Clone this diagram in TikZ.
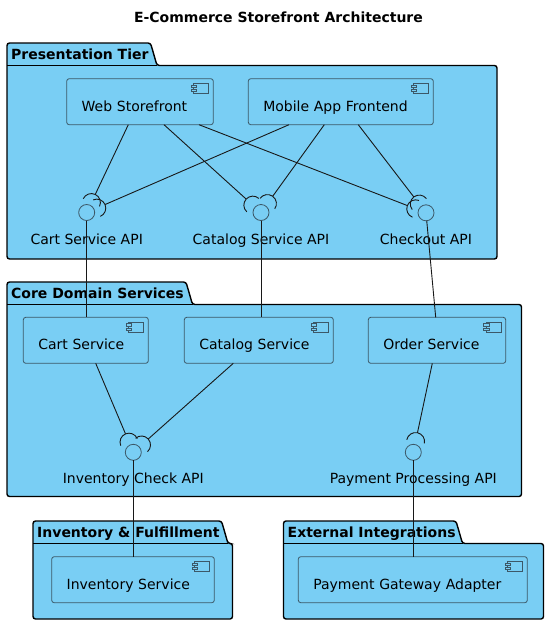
\documentclass[tikz,border=0pt]{standalone}
\usepackage{fontspec}
\setmainfont{DejaVu Sans}
\usepackage{tikz}
\usetikzlibrary{calc}
\definecolor{pkgblue}{HTML}{79CEF4}
\definecolor{compedge}{HTML}{3C5868}
\definecolor{linkdark}{HTML}{181818}

\newcommand{\umlsize}{\fontsize{14}{17}\selectfont}

% required interface: line from a start point, ending in a half circle round the ball
\newcommand{\socketlink}[2]{%
  \draw[link] let \p1 = ($(#1)-(#2)$), \n1 = {atan2(\y1,\x1)} in
    (#1) -- ($(#2)!20pt!(#1)$)
    ($(#2)!11pt!(#1)$) ++(\n1-90:9pt) arc[start angle=\n1-90, end angle=\n1+90, radius=9pt];
}

\begin{document}
\begin{tikzpicture}[x=1pt, y=-1pt,
    pkg/.style={draw=black, fill=pkgblue, line width=1.4pt, rounded corners=2.5pt},
    pkgline/.style={draw=black, line width=1.4pt},
    pkgtitle/.style={font=\umlsize\bfseries, anchor=base west, inner sep=0pt},
    comp/.style={draw=compedge, fill=pkgblue, line width=0.8pt, rounded corners=2.5pt,
        anchor=north west, minimum height=46pt, inner xsep=15pt, outer sep=0pt,
        text height=18.6pt, text depth=0pt, align=left, font=\umlsize},
    compicon/.style={draw=compedge, fill=pkgblue, line width=0.7pt},
    iface/.style={circle, draw=compedge, fill=pkgblue, line width=0.8pt,
        minimum size=16pt, inner sep=0pt, outer sep=0pt},
    ifacelabel/.style={font=\umlsize, anchor=base, yshift=-23.5pt, inner sep=0pt},
    link/.style={draw=linkdark, line width=0.9pt}]

    \useasboundingbox (0,0) rectangle (557,633);
    \fill[white] (0,0) rectangle (557,633);

    % Title
    \node[font=\umlsize\bfseries, anchor=base] (title) at (278.5,22.7) {E-Commerce Storefront Architecture};

    % Packages
    \foreach \px/\py/\tabr/\pr/\pb/\ptitle in {
        7/43/150.5/497/259/Presentation Tier,
        7/282/186/521.5/496.5/Core Domain Services,
        33/521/221.5/232.5/619/Inventory \& Fulfillment,
        283.5/521/456/543.5/619/External Integrations} {
        \draw[pkg] (\px,\py+22.5) -- (\px,\py) -- (\tabr,\py) -- (\tabr+6.5,\py+22.5)
            -- (\pr,\py+22.5) -- (\pr,\pb) -- (\px,\pb) -- cycle;
        \draw[pkgline] (\px,\py+22.5) -- (\tabr+6.5,\py+22.5);
        \node[pkgtitle] at (\px+4,\py+16) {\ptitle};
    }

    % Components
    \node[comp, text width=116.6pt] (ws) at (66.7,78.7) {Web Storefront};
    \node[comp, text width=155pt] (maf) at (248.3,78.7) {Mobile App Frontend};
    \node[comp, text width=95pt] (cs) at (23.3,317.3) {Cart Service};
    \node[comp, text width=119pt] (cats) at (184.3,317.3) {Catalog Service};
    \node[comp, text width=107.4pt] (os) at (368.3,317.3) {Order Service};
    \node[comp, text width=132.6pt] (inv) at (51.7,556.7) {Inventory Service};
    \node[comp, text width=199pt] (pga) at (298.3,556.7) {Payment Gateway Adapter};

    % Component icons
    \foreach \c in {ws,maf,cs,cats,os,inv,pga} {
        \draw[compicon] ([shift={(-19.6,4.6)}]\c.north east) rectangle ([shift={(-4.6,14.6)}]\c.north east);
        \draw[compicon] ([shift={(-22.3,6.2)}]\c.north east) rectangle ([shift={(-16.8,8.6)}]\c.north east);
        \draw[compicon] ([shift={(-22.3,10.6)}]\c.north east) rectangle ([shift={(-16.8,13)}]\c.north east);
    }

    % Interfaces
    \node[iface, label={[ifacelabel]below:Cart Service API}] (cartapi) at (86.7,212.5) {};
    \node[iface, label={[ifacelabel]below:Catalog Service API}] (catapi) at (261,212.5) {};
    \node[iface, label={[ifacelabel]below:Checkout API}] (checkapi) at (426,212.8) {};
    \node[iface, label={[ifacelabel]below:Inventory Check API}] (invapi) at (133.3,452.3) {};
    \node[iface, label={[ifacelabel]below:Payment Processing API}] (payapi) at (413.3,452.3) {};

    % Link start points
    \coordinate (ws-cart) at ([xshift=-11.7pt]ws.south);
    \coordinate (ws-cat) at ([xshift=24pt]ws.south);
    \coordinate (ws-check) at ([xshift=59pt]ws.south);
    \coordinate (maf-cart) at ([xshift=-51.8pt]maf.south);
    \coordinate (maf-cat) at ([xshift=-16.5pt]maf.south);
    \coordinate (maf-check) at ([xshift=17.5pt]maf.south);
    \coordinate (cs-inv) at ([xshift=9.9pt]cs.south);
    \coordinate (cats-inv) at ([xshift=-25.5pt]cats.south);
    \coordinate (os-pay) at ([xshift=-4.7pt]os.south);

    % Provided interfaces
    \draw[link] (cartapi) -- (cartapi |- cs.north);
    \draw[link] (catapi) -- (catapi |- cats.north);
    \draw[link] (checkapi) -- ([xshift=-1.3pt]os.north);
    \draw[link] (invapi) -- (invapi |- inv.north);
    \draw[link] (payapi) -- (payapi |- pga.north);

    % Required interfaces
    \socketlink{ws-cart}{cartapi}
    \socketlink{ws-cat}{catapi}
    \socketlink{ws-check}{checkapi}
    \socketlink{maf-cart}{cartapi}
    \socketlink{maf-cat}{catapi}
    \socketlink{maf-check}{checkapi}
    \socketlink{cs-inv}{invapi}
    \socketlink{cats-inv}{invapi}
    \socketlink{os-pay}{payapi}
\end{tikzpicture}
\end{document}
